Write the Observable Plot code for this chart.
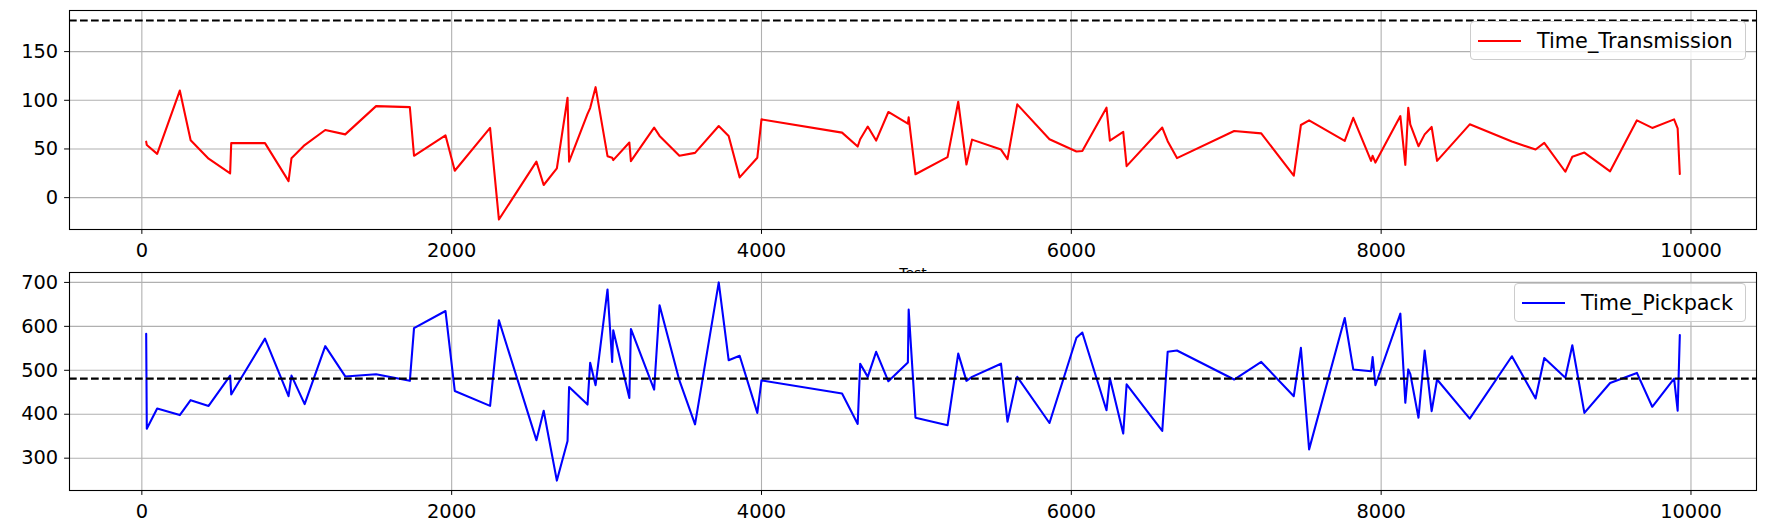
<!DOCTYPE html>
<html>
<head>
<meta charset="utf-8">
<script src="https://cdn.jsdelivr.net/npm/d3@7"></script>
<script src="https://cdn.jsdelivr.net/npm/@observablehq/plot@0.6"></script>
<style>
  html, body { margin: 0; padding: 0; background: white; overflow: hidden; }
  #wrap { position: relative; width: 1766px; height: 527px; background: white; font-family: "DejaVu Sans", sans-serif; }
  #wrap > svg, #wrap > figure { position: absolute; left: 0; top: 0; margin: 0; }
  .legend { position: absolute; box-sizing: border-box; border: 1px solid #cccccc; border-radius: 4px; background: rgba(255,255,255,0.8); }
  .handle { position: absolute; height: 2px; }
  .ltext { position: absolute; font-size: 20.8px; line-height: 24px; color: black; white-space: nowrap; }
</style>
</head>
<body>
<div id="wrap"></div>
<script>
// ---- data ----
const test = [28, 32, 99, 245, 315, 431, 570, 577, 795, 947, 966, 1051, 1184, 1313, 1512, 1730, 1757, 1960, 2020, 2248,
  2305, 2547, 2594, 2679, 2748, 2758, 2877, 2894, 2929, 3006, 3036, 3043, 3147, 3157, 3307, 3342, 3470, 3571, 3724, 3788,
  3859, 3973, 4000, 4520, 4621, 4637, 4686, 4740, 4819, 4945, 4950, 4994, 5201, 5270, 5323, 5359, 5546, 5588, 5651, 5859,
  6033, 6071, 6227, 6249, 6335, 6357, 6587, 6622, 6682, 7051, 7226, 7436, 7482, 7535, 7765, 7820, 7935, 7945, 7963, 8124,
  8156, 8175, 8188, 8241, 8281, 8326, 8361, 8572, 8844, 8997, 9053, 9189, 9234, 9312, 9478, 9651, 9750, 9891, 9914, 9928];

const timeTransmission = [57.5, 54, 45, 110, 59, 40, 25, 56, 56, 17, 40.5, 54, 69.5, 65, 94, 93, 43, 64, 27.6, 71.6,
  -22.5, 37, 13, 30, 102.6, 37, 86, 92, 113.5, 42.6, 41, 38.5, 56.6, 37.5, 72, 63.4, 43, 46, 73.6, 63.4,
  20.8, 41, 80.4, 66.8, 52.5, 60, 73, 58.6, 88, 76, 82.5, 24, 41.6, 98.5, 34, 59.6, 49.4, 39.5, 95.8, 60,
  47.4, 48, 92.4, 58.6, 67.5, 32.4, 72, 58, 40.6, 68.5, 66, 22.5, 74.6, 79.4, 58.3, 82, 37.8, 43, 36, 83.8,
  33.7, 92.4, 75.3, 52.8, 65, 72.6, 37.8, 75.3, 57.6, 49.4, 56.2, 26.6, 42, 46.3, 27, 79.4, 71.6, 80.4, 71.2, 24.2];

const timePickpack = [583, 367, 413, 398, 432, 419, 488, 445, 572, 441, 488, 423, 555, 486, 491, 476, 596, 635, 453, 419,
  614, 341, 408, 249, 339, 462, 422, 517, 466, 684, 519, 591, 437, 594, 456, 648, 477, 377, 700, 523,
  533, 403, 477, 447, 378, 515, 485, 542, 475, 518, 638, 392, 375, 538, 476, 485, 515, 383, 485, 380,
  574, 586, 409, 482, 356, 468, 362, 542, 545, 479, 519, 441, 551, 320, 619, 502, 498, 530, 466, 629,
  426, 502, 492, 392, 545, 407, 479, 390, 532, 436, 528, 483, 557, 403, 471, 494, 417, 481, 408, 580];

const transmissionThreshold = 182;
const pickpackThreshold = 481;

const xTicks = [0, 2000, 4000, 6000, 8000, 10000];
const transmissionTicks = [0, 50, 100, 150];
const pickpackTicks = [300, 400, 500, 600, 700];

const xLabel = "Test";
const transmissionName = "Time_Transmission";
const pickpackName = "Time_Pickpack";

// ---- helpers ----
const rows = test.map((t, i) => ({test: t, trans: timeTransmission[i], pick: timePickpack[i]}));
function padded(values) {
  const lo = d3.min(values), hi = d3.max(values), p = 0.05 * (hi - lo);
  return [lo - p, hi + p];
}
const xDomain = padded(test);
const topDomain = padded([...timeTransmission, transmissionThreshold]);
const botDomain = padded([...timePickpack, pickpackThreshold]);

const gridStyle = {stroke: "#b0b0b0", strokeWidth: 1.1, strokeOpacity: 1};
const baseStyle = {background: "transparent", fontFamily: "DejaVu Sans, sans-serif", fontSize: "19.4px", color: "black", overflow: "visible"};
const fmt = d3.format("d");

const topPlot = Plot.plot({
  width: 1766, height: 300,
  marginTop: 10, marginBottom: 71, marginLeft: 69, marginRight: 10,
  style: baseStyle,
  x: {domain: xDomain},
  y: {domain: topDomain},
  marks: [
    Plot.frame({fill: "white", stroke: null}),
    Plot.ruleX(xTicks, gridStyle),
    Plot.ruleY(transmissionTicks, gridStyle),
    Plot.line(rows, {x: "test", y: "trans", stroke: "#ff0000", strokeWidth: 2.08}),
    Plot.ruleY([transmissionThreshold], {stroke: "black", strokeWidth: 2.08, strokeDasharray: "7.7,3.3"}),
    Plot.frame({stroke: "black", strokeWidth: 1.1}),
    Plot.axisX({ticks: xTicks, tickFormat: fmt, tickSize: 4.9, tickPadding: 8.6, label: null}),
    Plot.axisY({ticks: transmissionTicks, tickFormat: fmt, tickSize: 4.9, tickPadding: 6.4, label: null}),
    Plot.text([xLabel], {frameAnchor: "bottom", dy: 38.7, lineAnchor: "top", fontSize: 13.9, text: d => d})
  ]
});

const botPlot = Plot.plot({
  width: 1766, height: 527,
  marginTop: 272, marginBottom: 37, marginLeft: 69, marginRight: 10,
  style: baseStyle,
  x: {domain: xDomain},
  y: {domain: botDomain},
  marks: [
    Plot.frame({fill: "white", stroke: null}),
    Plot.ruleX(xTicks, gridStyle),
    Plot.ruleY(pickpackTicks, gridStyle),
    Plot.line(rows, {x: "test", y: "pick", stroke: "#0000ff", strokeWidth: 2.08}),
    Plot.ruleY([pickpackThreshold], {stroke: "black", strokeWidth: 2.08, strokeDasharray: "7.7,3.3"}),
    Plot.frame({stroke: "black", strokeWidth: 1.1}),
    Plot.axisX({ticks: xTicks, tickFormat: fmt, tickSize: 4.9, tickPadding: 8.6, label: null}),
    Plot.axisY({ticks: pickpackTicks, tickFormat: fmt, tickSize: 4.9, tickPadding: 6.4, label: null})
  ]
});

const wrap = document.getElementById("wrap");
wrap.appendChild(topPlot);
wrap.appendChild(botPlot);

function addLegend(box, color, label) {
  const lg = document.createElement("div");
  lg.className = "legend";
  Object.assign(lg.style, {left: box.left + "px", top: box.top + "px", width: box.width + "px", height: box.height + "px"});
  const h = document.createElement("div");
  h.className = "handle";
  Object.assign(h.style, {left: "7px", top: (box.height / 2 - 2) + "px", width: "43px", background: color});
  const t = document.createElement("div");
  t.className = "ltext";
  t.textContent = label;
  Object.assign(t.style, {left: "66px", top: (box.height / 2 - 13) + "px"});
  lg.appendChild(h);
  lg.appendChild(t);
  wrap.appendChild(lg);
}
addLegend({left: 1470, top: 21, width: 276, height: 39}, "#ff0000", transmissionName);
addLegend({left: 1514, top: 283, width: 232, height: 39}, "#0000ff", pickpackName);
</script>
</body>
</html>
